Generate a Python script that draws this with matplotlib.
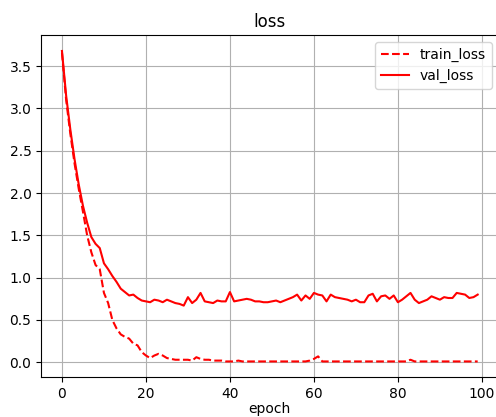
import matplotlib
matplotlib.use("Agg")
import matplotlib.pyplot as plt

epochs = list(range(100))

train_loss = [3.66, 3.10, 2.70, 2.35, 2.05, 1.78, 1.50, 1.30, 1.15, 1.10,
              0.82, 0.70, 0.50, 0.40, 0.33, 0.30, 0.28, 0.22, 0.20, 0.12,
              0.08, 0.05, 0.08, 0.10, 0.08, 0.05, 0.04, 0.03, 0.03, 0.03,
              0.03, 0.02, 0.06, 0.04, 0.03, 0.03, 0.02, 0.02, 0.02, 0.01,
              0.01, 0.01, 0.02, 0.01, 0.01, 0.01, 0.01, 0.01, 0.01, 0.01,
              0.01, 0.01, 0.01, 0.01, 0.01, 0.01, 0.01, 0.01, 0.01, 0.02,
              0.04, 0.07, 0.01, 0.01, 0.01, 0.01, 0.01, 0.01, 0.01, 0.01,
              0.01, 0.01, 0.01, 0.01, 0.01, 0.01, 0.01, 0.01, 0.01, 0.01,
              0.01, 0.01, 0.01, 0.03, 0.01, 0.01, 0.01, 0.01, 0.01, 0.01,
              0.01, 0.01, 0.01, 0.01, 0.01, 0.01, 0.01, 0.01, 0.01, 0.01]

val_loss = [3.68, 3.15, 2.75, 2.40, 2.10, 1.85, 1.65, 1.48, 1.40, 1.35,
            1.17, 1.10, 1.02, 0.95, 0.87, 0.83, 0.79, 0.80, 0.76, 0.73,
            0.72, 0.71, 0.74, 0.73, 0.71, 0.74, 0.72, 0.70, 0.69, 0.67,
            0.77, 0.70, 0.74, 0.82, 0.72, 0.71, 0.70, 0.73, 0.72, 0.72,
            0.83, 0.72, 0.73, 0.74, 0.75, 0.74, 0.72, 0.72, 0.71, 0.71,
            0.72, 0.73, 0.71, 0.73, 0.75, 0.77, 0.80, 0.73, 0.79, 0.75,
            0.82, 0.80, 0.79, 0.72, 0.80, 0.77, 0.76, 0.75, 0.74, 0.72,
            0.74, 0.71, 0.71, 0.79, 0.81, 0.72, 0.78, 0.79, 0.75, 0.79,
            0.71, 0.74, 0.78, 0.82, 0.74, 0.70, 0.72, 0.74, 0.78, 0.76,
            0.74, 0.77, 0.76, 0.76, 0.82, 0.81, 0.80, 0.76, 0.77, 0.80]

fig = plt.figure(figsize=(4.96, 4.17), dpi=100)
ax = fig.add_axes([0.083, 0.096, 0.922, 0.819])
ax.plot(epochs, train_loss, 'r--', linewidth=1.5, label='train_loss')
ax.plot(epochs, val_loss, 'r-', linewidth=1.5, label='val_loss')
ax.set_title('loss')
ax.set_xlabel('epoch', labelpad=1)
ax.grid(True)
ax.legend(loc='upper right')
fig.savefig('out.png', dpi=100)
